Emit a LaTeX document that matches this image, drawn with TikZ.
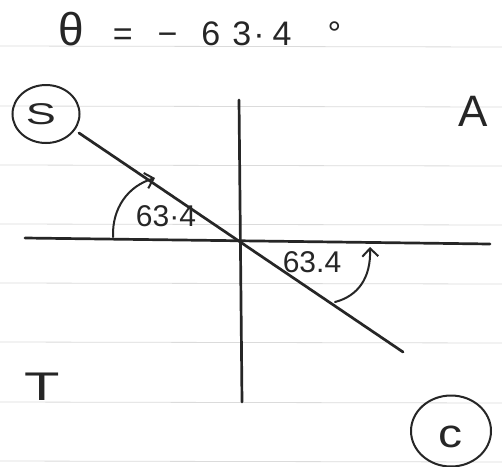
\documentclass[tikz,border=0pt]{standalone}
\usepackage{fontspec}
\setmainfont{Liberation Sans}
\usetikzlibrary{arrows.meta,shapes.geometric}
\begin{document}
\begin{tikzpicture}[x=1pt,y=-1pt,
  paper/.style={draw=black!14, line width=0.8pt},
  pen/.style={draw=black!85, line width=2.7pt, line cap=round},
  thinpen/.style={draw=black!85, line width=2pt, line cap=round},
  hand/.style={inner sep=0pt, text=black!85},
  ring/.style={draw=black!85, line width=2pt, ellipse, inner sep=0pt},
  tipa/.style={-{Straight Barb[length=8pt,width=16pt,line width=2pt]}}]
\useasboundingbox (0,0) rectangle (502,466);
\fill[white] (0,0) rectangle (502,466);
% ruled paper
\foreach \yy in {46,106,165,224,283,342,402,461}
  \draw[paper] (0,\yy) -- (502,\yy+1);
% title
\node[hand, anchor=base west, font=\fontsize{34}{34}\selectfont] (title) at (58,45)
  {{\fontsize{46}{46}\selectfont θ}\hspace{29pt}=\hspace{25pt}−\hspace{24pt}6\hspace{12pt}3\hspace{2pt}·\hspace{8pt}4\hspace{36pt}°};
% quadrant labels
\node[ring, minimum width=67pt, minimum height=58pt] (S) at (46,114) {};
\node[hand, xscale=1.5, font=\fontsize{30}{30}\selectfont] (Sl) at (41,114) {S};
\node[hand, font=\fontsize{44}{44}\selectfont] (A) at (473,111) {A};
\node[hand, xscale=1.45, font=\fontsize{40}{40}\selectfont] (T) at (42,387) {T};
\node[ring, minimum width=80pt, minimum height=71pt] (C) at (451,431) {};
\node[hand, xscale=1.2, font=\fontsize{40}{40}\selectfont] (Cl) at (450,437) {c};
% axes
\coordinate (O) at (240,240);
\coordinate (xl) at (25,238);
\coordinate (xr) at (490,244);
\coordinate (yt) at (239,100);
\coordinate (yb) at (242,402);
\coordinate (d1) at (79,133);
\coordinate (d2) at (403,352);
\draw[pen] (xl) -- (xr);
\draw[pen] (yt) -- (yb);
\draw[pen] (d1) -- (d2);
% angle arcs
\coordinate (a1s) at (113,237);
\coordinate (a1e) at (155,178);
\draw[thinpen, tipa] (a1s) .. controls (112,208) and (128,186) .. (a1e);
\coordinate (a2s) at (335,302);
\coordinate (a2e) at (370,247);
\draw[thinpen, tipa] (a2s) .. controls (358,296) and (371,278) .. (a2e);
\node[hand, font=\fontsize{30}{30}\selectfont] (L1) at (166,216) {63·4};
\node[hand, font=\fontsize{30}{30}\selectfont] (L2) at (312,262) {63.4};
\end{tikzpicture}
\end{document}
